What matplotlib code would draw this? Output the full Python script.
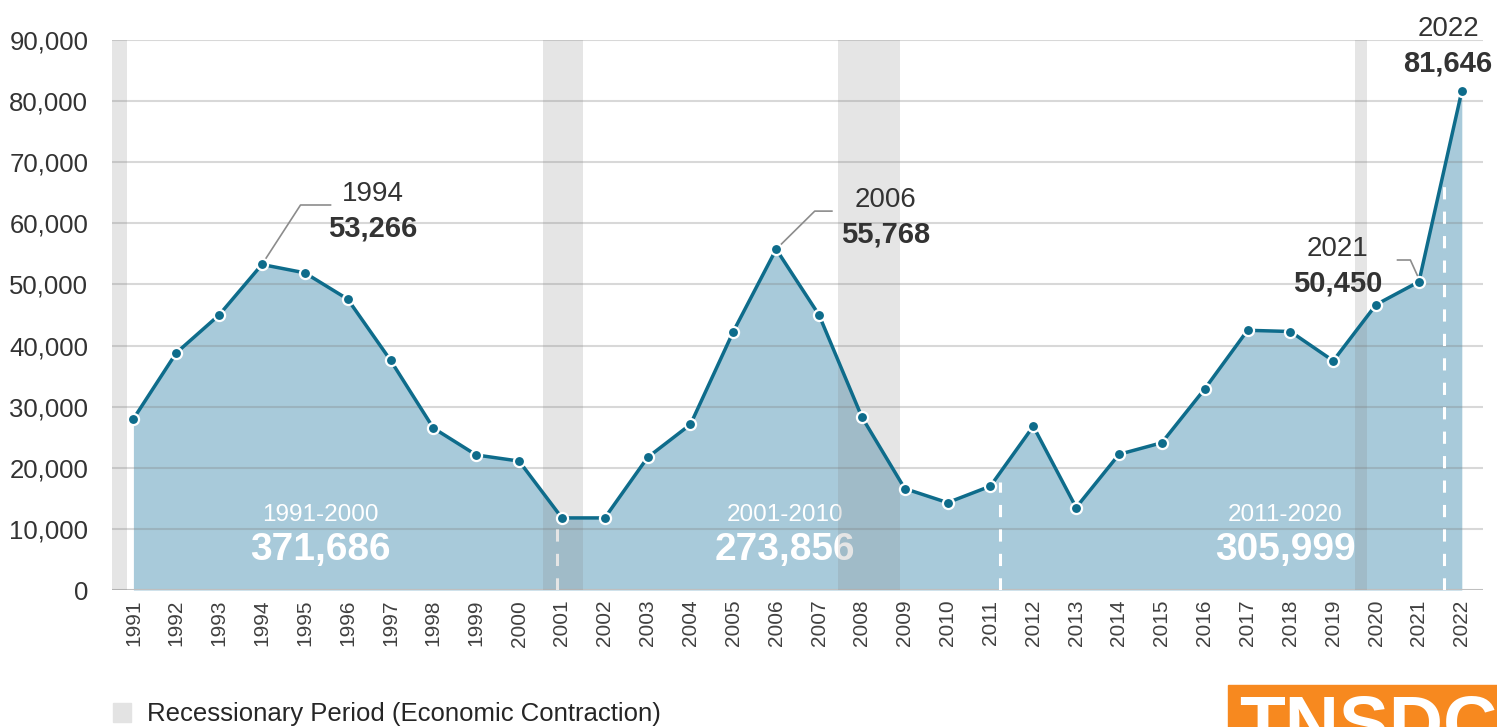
import numpy as np
import matplotlib.pyplot as plt
from matplotlib.patches import Rectangle

# -----------------------------
# Data
# -----------------------------
years = [str(y) for y in range(1991, 2023)]
values = [
    28000, 38800, 45000, 53266, 51900, 47600, 37600, 26500, 22100, 21100,
    11800, 11800, 21700, 27100, 42300, 55768, 45000, 28300, 16600, 14300,
    17000, 26800, 13500, 22200, 24100, 32900, 42500, 42300, 37500, 46700,
    50450, 81646,
]

# recession spans in category-index units
recessions = [(-0.5, -0.14), (9.55, 10.5), (16.45, 17.9), (28.5, 28.78)]

decade_labels = ["1991-2000", "2001-2010", "2011-2020"]
decade_totals = ["371,686", "273,856", "305,999"]
decade_text_x = [4.37, 15.2, 26.88]
decade_breaks = [9.89, 20.22, 30.58]

# callouts: (year label, value label, text x, text y)
callouts = [
    ("1994", "53,266", 5.58, 62000),
    ("2006", "55,768", 17.55, 61000),
    ("2021", "50,450", 28.1, 53000),
    ("2022", "81,646", 30.68, 89000),
]

LINE = "#0E6C8B"
FILL = "#A8CADA"
TEXT = "#333333"

plt.rcParams["font.family"] = ["Liberation Sans", "DejaVu Sans"]

fig = plt.figure(figsize=(14.97, 7.27), dpi=100)
ax = fig.add_axes([0.0748, 0.1884, 0.916, 0.7566])

x = np.arange(len(years))
v = np.array(values, dtype=float)

ax.fill_between(x, 0, v, color=FILL, zorder=1, linewidth=0)

for y0 in range(10000, 100000, 10000):
    ax.axhline(y0, color="#808080", alpha=0.3, lw=1.5, zorder=2)
ax.axhline(0, color="#BFBFBF", lw=1.5, zorder=2)

# decade separators (white dashed, up to the curve)
for b in decade_breaks:
    top = np.interp(b, x, v)
    ax.plot([b, b], [0, top - 1500], color="white", lw=2.2,
            ls=(0, (4, 4)), zorder=3)

for lab, tot, tx in zip(decade_labels, decade_totals, decade_text_x):
    ax.text(tx, 12200, lab, color="white", fontsize=17.5, ha="center",
            va="center", zorder=3)
    ax.text(tx, 6600, tot, color="white", fontsize=28, fontweight="bold",
            ha="center", va="center", zorder=3)

for a, b in recessions:
    ax.axvspan(a, b, ymin=0, ymax=1, color="#808080", alpha=0.2, lw=0, zorder=4)

ax.plot(x, v, color=LINE, lw=2.5, zorder=5)
ax.plot(x, v, ls="none", marker="o", ms=8, mfc=LINE, mec="white",
        mew=1.6, zorder=6)

# callouts
for yr, val, tx, ty in callouts:
    ax.text(tx, ty + 2800, yr, color=TEXT, fontsize=20, ha="center", va="center",
            zorder=7)
    ax.text(tx, ty - 2800, val, color=TEXT, fontsize=21, fontweight="bold",
            ha="center", va="center", zorder=7)

# leader lines
ax.plot([3, 3.9, 4.6], [53266, 63000, 63000], color="#8C8C8C", lw=1.2, zorder=5)
ax.plot([15, 15.9, 16.3], [55768, 62000, 62000], color="#8C8C8C", lw=1.2, zorder=5)
ax.plot([29.5, 29.8, 30], [54000, 54000, 50900], color="#8C8C8C", lw=1.2, zorder=5)

ax.set_xlim(-0.5, len(years) - 0.5)
ax.set_ylim(0, 90000)
ax.set_xticks(x)
ax.set_xticklabels(years, rotation=90, fontsize=15, color="#404040")
ax.set_yticks(range(0, 100000, 10000))
ax.set_yticklabels([f"{t:,}" for t in range(0, 100000, 10000)],
                   fontsize=18.5, color="#333333")
ax.tick_params(axis="y", length=0, pad=17)
ax.tick_params(axis="x", length=0, pad=7)
for s in ax.spines.values():
    s.set_visible(False)

# legend
fig.patches.append(Rectangle((113 / 1497, 1 - 722 / 727), 18 / 1497, 19 / 727,
                             transform=fig.transFigure, color="#E3E3E3"))
fig.text(147 / 1497, 1 - 714 / 727, "Recessionary Period (Economic Contraction)",
         fontsize=18.5, color="#262626", va="center", ha="left")

# logo (cut off at bottom edge)
fig.patches.append(Rectangle((1228 / 1497, 0), 269 / 1497, 42 / 727,
                             transform=fig.transFigure, color="#F7891F"))
fig.text(1368 / 1497, -36 / 727, "TNSDC", fontsize=54, fontweight="bold",
         color="white", ha="center", va="bottom")

fig.savefig("out.png", dpi=100)
